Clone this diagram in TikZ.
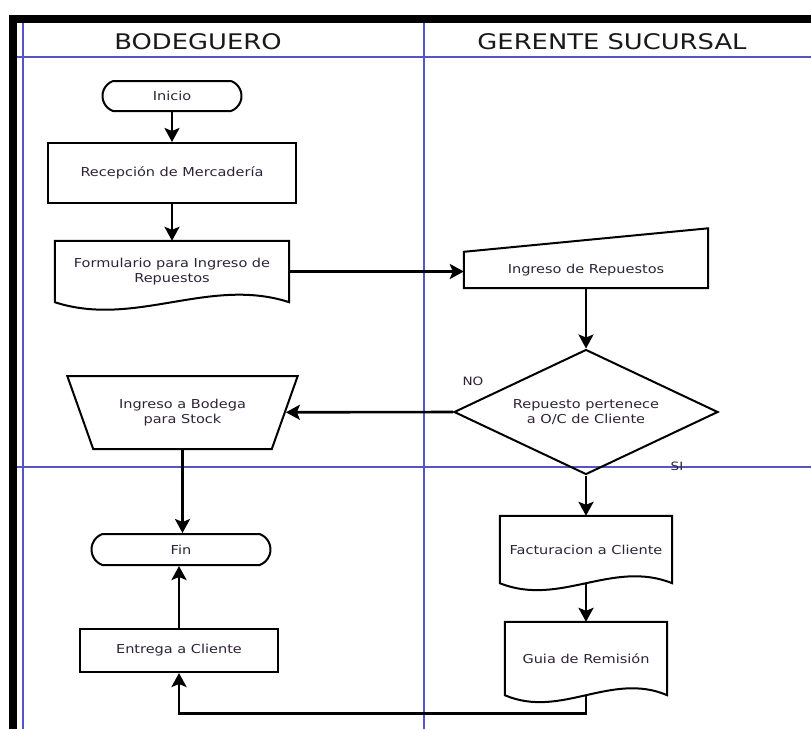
\documentclass[tikz,border=0pt]{standalone}
\usepackage{fontspec}
\usetikzlibrary{shapes.geometric,shapes.misc,arrows.meta,calc}
\newfontfamily\nodefont[FakeStretch=1.18]{DejaVu Sans}
\newfontfamily\headfont[FakeStretch=1.2]{DejaVu Sans}
\definecolor{lane}{RGB}{85,85,195}
\definecolor{txt}{RGB}{45,35,55}
\begin{document}
\begin{tikzpicture}[x=1pt,y=-1pt,
  every node/.style={font=\nodefont\fontsize{12.3}{14.5}\selectfont, text=txt, align=center, inner sep=2pt},
  outline/.style={draw=black, line width=2pt, line join=miter},
  term/.style={outline, rounded rectangle, rounded rectangle arc length=140},
  proc/.style={outline, rectangle},
  ghost/.style={rectangle, draw=none},
  arr/.style={line width=2.6pt, -{Stealth[length=14pt,width=15pt,inset=3pt]}},
  lanel/.style={draw=lane, line width=1.3pt},
  head/.style={font=\headfont\fontsize{21.5}{24}\selectfont, text=black!90},
  lbl/.style={font=\nodefont\fontsize{11.5}{13}\selectfont, text=txt}
]
\useasboundingbox (0,0) rectangle (811,729);
\fill[white] (0,0) rectangle (811,729);
% swimlane lines
\draw[lanel] (23,23) -- (23,729);
\draw[lanel] (424,23) -- (424,729);
\draw[lanel] (17,57) -- (811,57);
\draw[lanel] (17,467) -- (811,467);
% frame
\fill[black] (9,15) rectangle (811,23);
\fill[black] (9,15) rectangle (17,729);
% headers
\node[head] (h1) at (198,42) {BODEGUERO};
\node[head] (h2) at (612,42) {GERENTE SUCURSAL};
% left lane
\node[term, minimum width=143pt, minimum height=30pt] (ini) at (172,96) {Inicio};
\node[proc, minimum width=248pt, minimum height=60pt] (rec) at (172,173) {Recepción de Mercadería};
\node[ghost, minimum width=234pt, minimum height=61pt] (form) at (172,271.5) {Formulario para Ingreso de\\Repuestos};
\draw[outline] (form.south west) .. controls ($(form.south west)+(80,26)$) and ($(form.south east)+(-80,-26)$) .. (form.south east) -- (form.north east) -- (form.north west) -- cycle;
\node[outline, trapezium, shape border rotate=180, trapezium stretches=true, trapezium left angle=58, trapezium right angle=58, minimum width=231pt, minimum height=73pt] (trap) at (182.5,412.5) {Ingreso a Bodega\\para Stock};
\node[term, minimum width=183pt, minimum height=31pt] (fin) at (181,549.5) {Fin};
\node[proc, minimum width=198pt, minimum height=43pt] (ent) at (179,650.5) {Entrega a Cliente};
% right lane
\node[ghost, minimum width=244pt, minimum height=36pt] (ing) at (586,270) {Ingreso de Repuestos};
\draw[outline] (ing.south west) -- (ing.north west) -- ($(ing.north east)+(0,-23.5)$) -- (ing.south east) -- cycle;
\node[outline, diamond, aspect=2.11, minimum width=264pt, minimum height=125pt, inner sep=0pt] (dia) at (586,412) {Repuesto pertenece\\a O/C de Cliente};
\node[ghost, minimum width=172pt, minimum height=67pt] (fact) at (586,549.5) {Facturacion a Cliente};
\draw[outline] (fact.south west) .. controls ($(fact.south west)+(60,24)$) and ($(fact.south east)+(-60,-24)$) .. (fact.south east) -- (fact.north east) -- (fact.north west) -- cycle;
\node[ghost, minimum width=162pt, minimum height=73pt] (guia) at (586,658.5) {Guia de Remisión};
\draw[outline] (guia.south west) .. controls ($(guia.south west)+(56,24)$) and ($(guia.south east)+(-56,-24)$) .. (guia.south east) -- (guia.north east) -- (guia.north west) -- cycle;
% labels
\node[lbl] (no) at (473,381) {NO};
\node[lbl] (si) at (677,466) {SI};
% connectors
\draw[arr] (ini.south) -- (rec.north);
\draw[arr] (rec.south) -- (form.north);
\draw[arr] (form.east) -- (form.east -| ing.west);
\draw[arr] (ing.south) -- (dia.north);
\draw[arr] (dia.west) -- (trap);
\draw[arr] (dia.south) -- (fact.north);
\draw[arr] (fact.south) -- (guia.north);
\draw[arr] (trap) -- (trap |- fin.north);
\draw[arr] (ent.north) -- (ent.north |- fin.south);
\draw[arr] (guia.south) -- ++(0,18) -| (ent.south);
\end{tikzpicture}
\end{document}
